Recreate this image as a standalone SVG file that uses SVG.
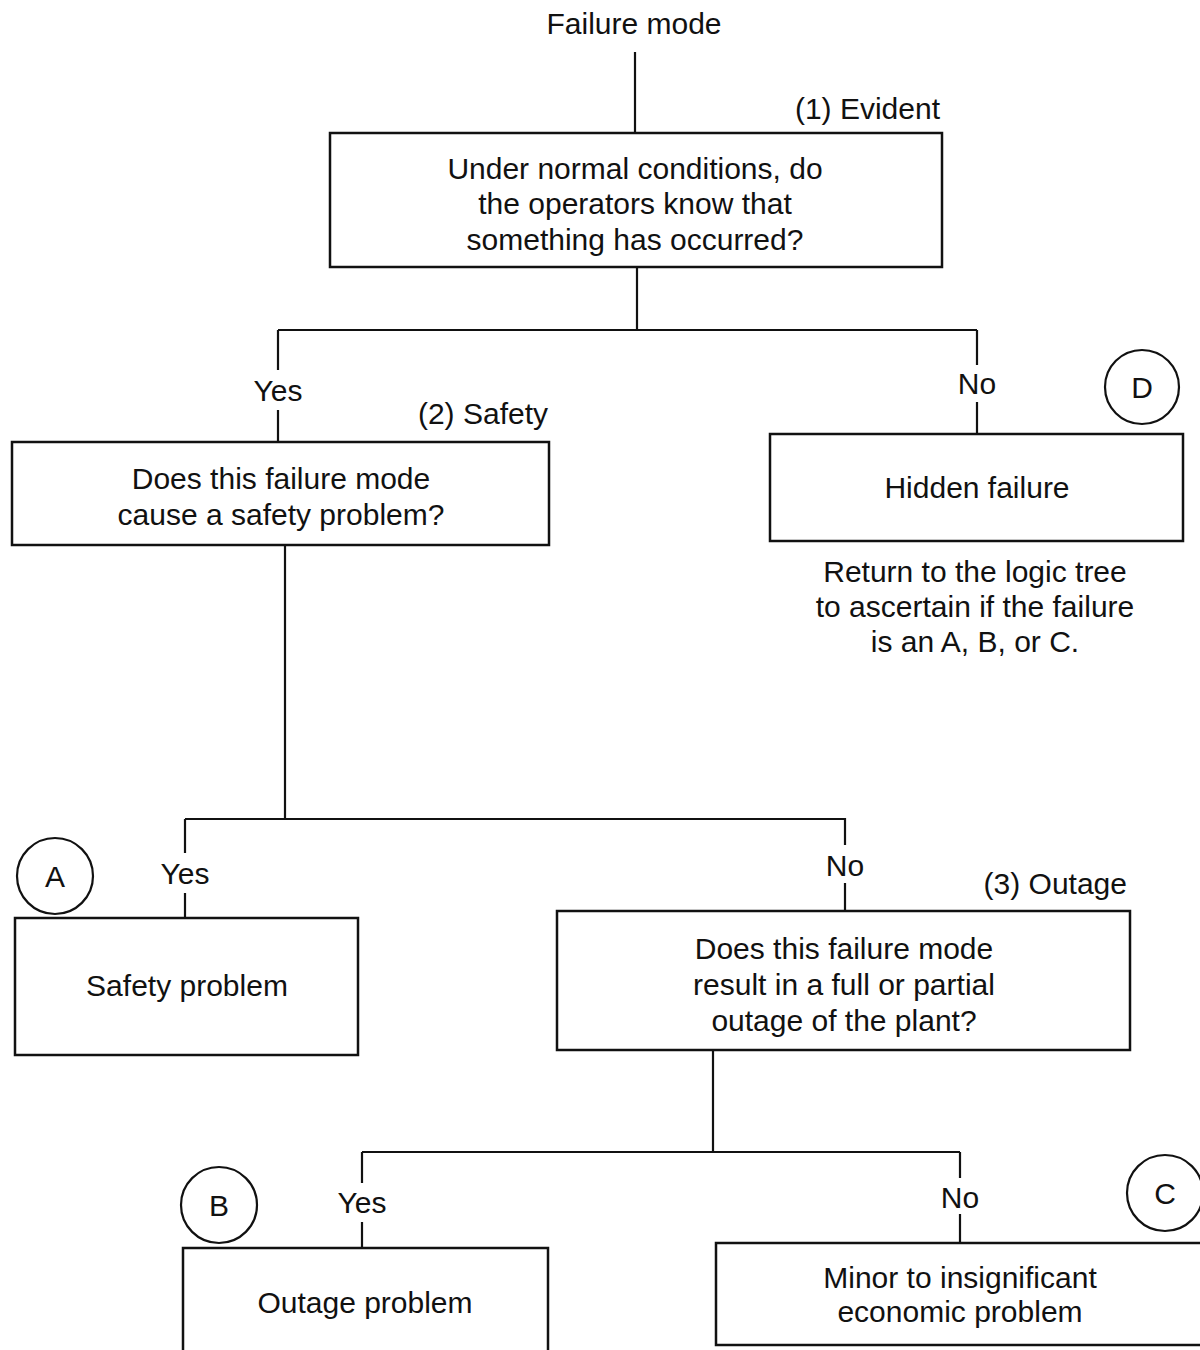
<svg xmlns="http://www.w3.org/2000/svg" width="1200" height="1350" viewBox="0 0 1200 1350">
<style>
text{font-family:"Liberation Sans",Arial,sans-serif;font-size:30px;fill:#111;text-anchor:middle}
.r{text-anchor:end}
.box{fill:#fff;stroke:#111;stroke-width:2.5}
.ln{fill:none;stroke:#111;stroke-width:2.2}
.c{fill:#fff;stroke:#111;stroke-width:2.2}
</style>
<rect width="1200" height="1350" fill="#fff"/>
<g id="connectors">
<path class="ln" d="M635 52V133"/>
<path class="ln" d="M637 267V330M278 330H977M278 330V370M278 410V442M977 330V365M977 402V434"/>
<path class="ln" d="M285 545V818M185 819H845M185 819V853M185 893V918M845 818V845M845 883V911"/>
<path class="ln" d="M713 1050V1152M362 1152H960M362 1152V1183M362 1222V1248M960 1152V1178M960 1214V1243"/>
</g>
<g id="title"><text x="634" y="34">Failure mode</text></g>
<g id="q1">
<text class="r" x="940" y="119">(1) Evident</text>
<rect class="box" x="330" y="133" width="612" height="134"/>
<text x="635" y="179">Under normal conditions, do</text>
<text x="635" y="214">the operators know that</text>
<text x="635" y="250">something has occurred?</text>
</g>
<g id="lbl-yes1"><text x="278" y="401">Yes</text></g>
<g id="lbl-no1"><text x="977" y="394">No</text></g>
<g id="q2">
<text class="r" x="548" y="424">(2) Safety</text>
<rect class="box" x="12" y="442" width="537" height="103"/>
<text x="281" y="489">Does this failure mode</text>
<text x="281" y="525">cause a safety problem?</text>
</g>
<g id="circD"><circle class="c" cx="1142" cy="387" r="37"/><text x="1142" y="398">D</text></g>
<g id="hidden">
<rect class="box" x="770" y="434" width="413" height="107"/>
<text x="977" y="498">Hidden failure</text>
</g>
<g id="note">
<text x="975" y="582">Return to the logic tree</text>
<text x="975" y="617">to ascertain if the failure</text>
<text x="975" y="652">is an A, B, or C.</text>
</g>
<g id="lbl-yes2"><text x="185" y="884">Yes</text></g>
<g id="lbl-no2"><text x="845" y="876">No</text></g>
<g id="circA"><circle class="c" cx="55" cy="876" r="38"/><text x="55" y="887">A</text></g>
<g id="safety">
<rect class="box" x="15" y="918" width="343" height="137"/>
<text x="187" y="996">Safety problem</text>
</g>
<g id="q3">
<text class="r" x="1127" y="894">(3) Outage</text>
<rect class="box" x="557" y="911" width="573" height="139"/>
<text x="844" y="959">Does this failure mode</text>
<text x="844" y="995">result in a full or partial</text>
<text x="844" y="1031">outage of the plant?</text>
</g>
<g id="lbl-yes3"><text x="362" y="1213">Yes</text></g>
<g id="lbl-no3"><text x="960" y="1208">No</text></g>
<g id="circB"><circle class="c" cx="219" cy="1205" r="38"/><text x="219" y="1216">B</text></g>
<g id="circC"><circle class="c" cx="1165" cy="1193" r="38"/><text x="1165" y="1204">C</text></g>
<g id="outage">
<rect class="box" x="183" y="1248" width="365" height="110"/>
<text x="365" y="1313">Outage problem</text>
</g>
<g id="minor">
<rect class="box" x="716" y="1243" width="500" height="102"/>
<text x="960" y="1288">Minor to insignificant</text>
<text x="960" y="1322">economic problem</text>
</g>
</svg>
